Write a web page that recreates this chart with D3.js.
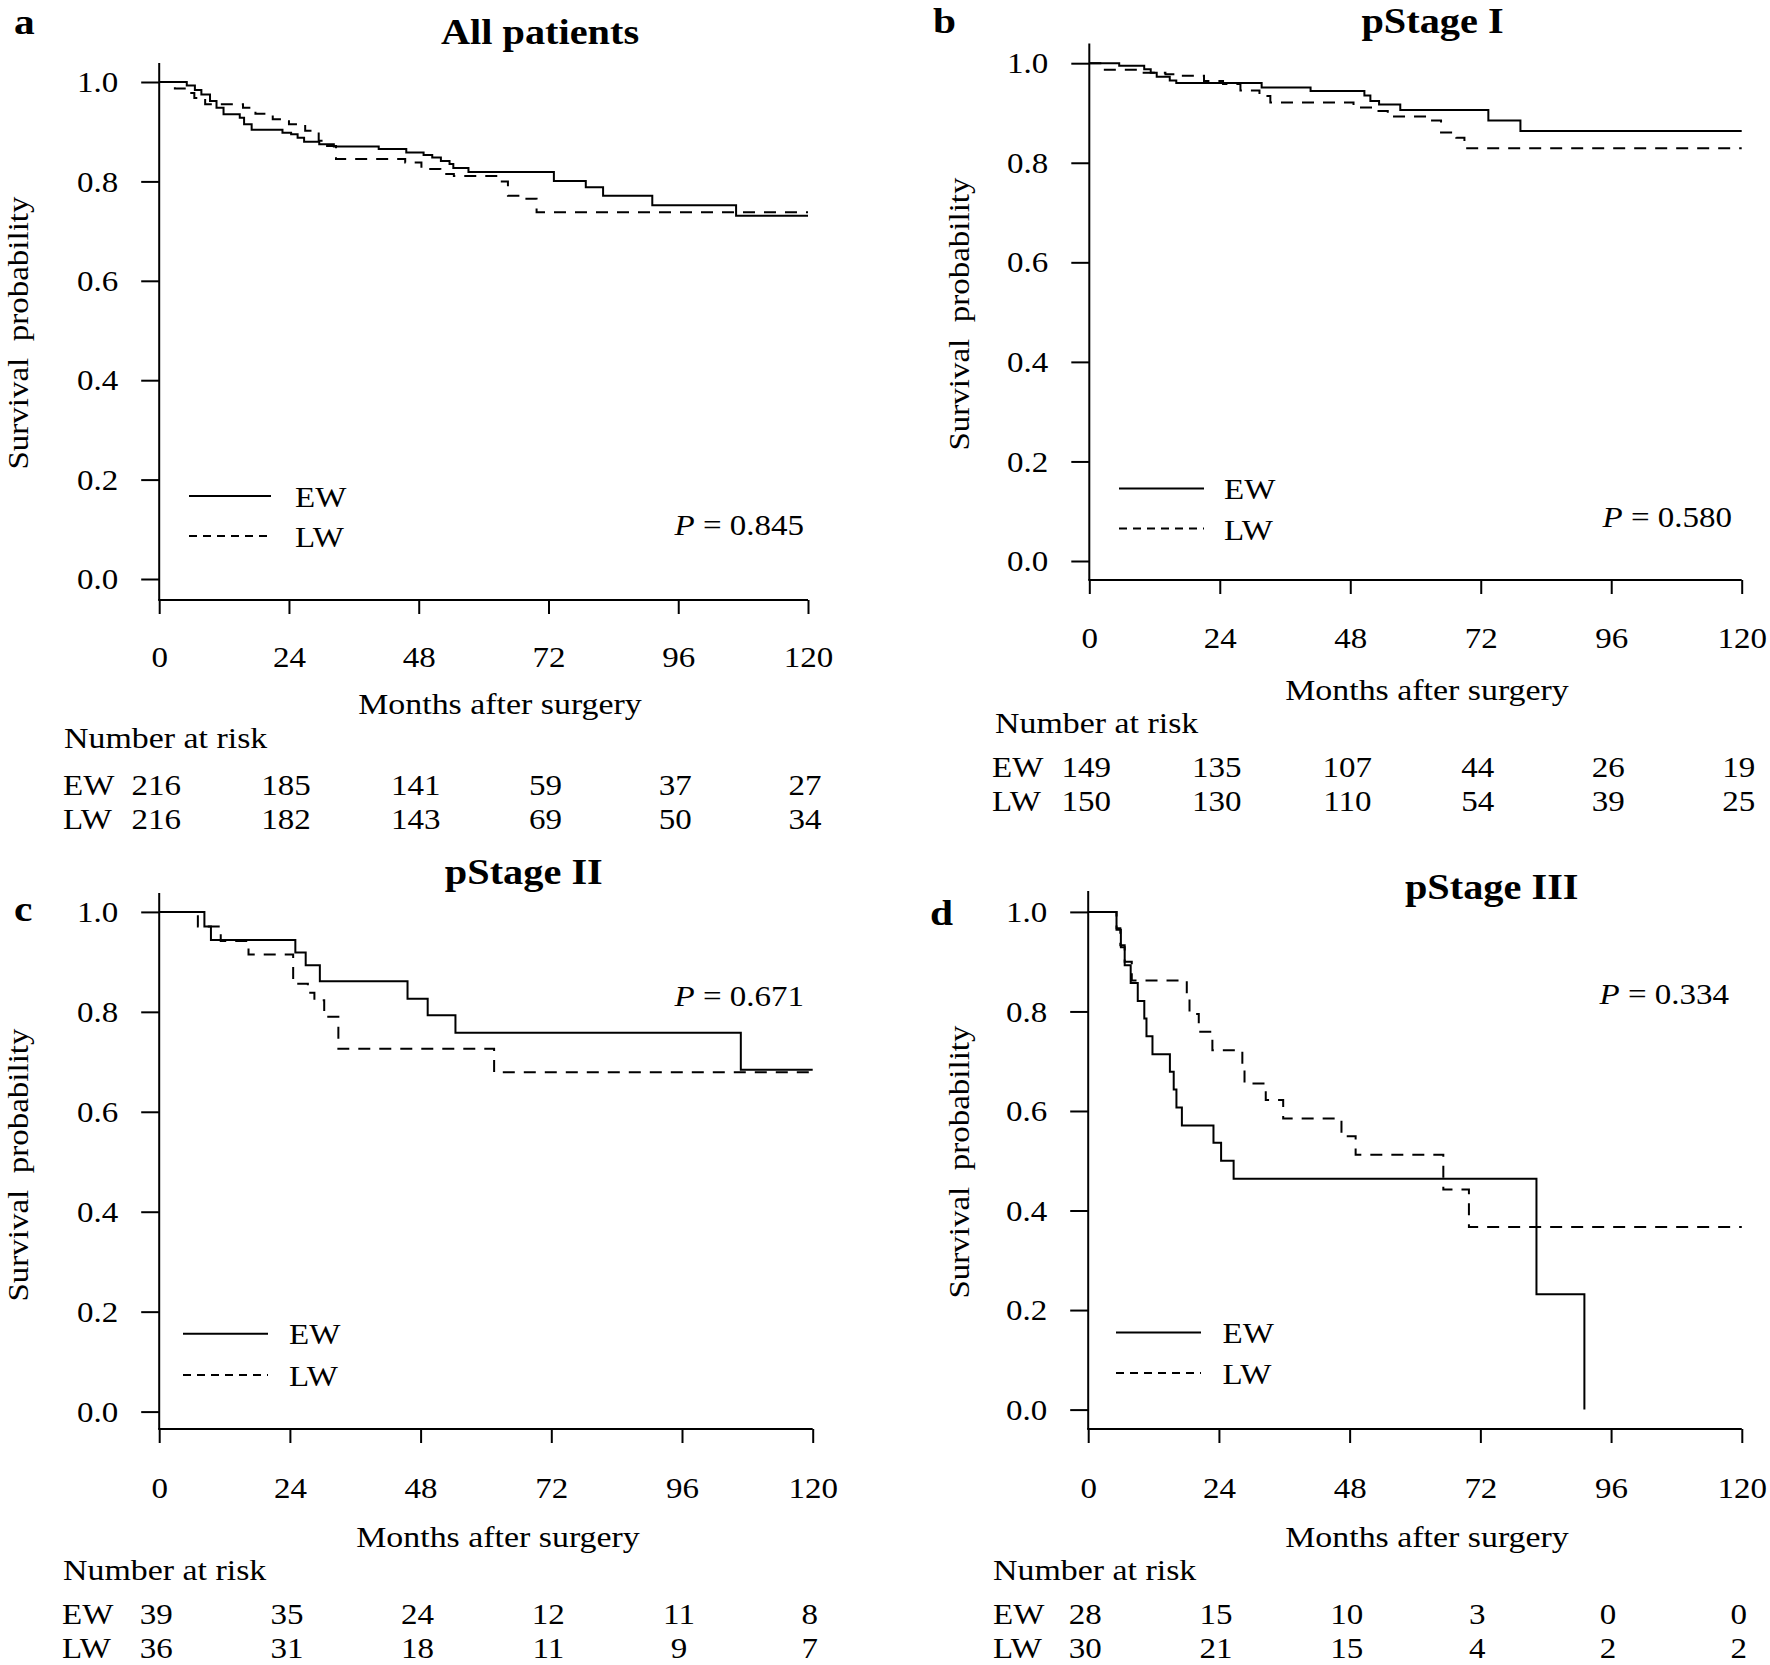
<!DOCTYPE html>
<html>
<head>
<meta charset="utf-8">
<script src="https://cdnjs.cloudflare.com/ajax/libs/d3/7.8.5/d3.min.js"></script>
<style>
  html, body { margin: 0; padding: 0; background: #fff; }
  svg { display: block; }
  text { font-family: "Liberation Serif", "Times New Roman", serif; fill: #000; }
</style>
</head>
<body>
<svg id="chart" width="1770" height="1665"></svg>
<script>
// ---------------- DATA ----------------
const months = [0, 24, 48, 72, 96, 120];
const yTicks = [0, 0.2, 0.4, 0.6, 0.8, 1.0];
const groups = ["EW", "LW"];
const panelLetters = ["a", "b", "c", "d"];
const panelTitles = ["All patients", "pStage I", "pStage II", "pStage III"];
const pValues = ["0.845", "0.580", "0.671", "0.334"];

const atRiskEW = [
  [216, 185, 141, 59, 37, 27],
  [149, 135, 107, 44, 26, 19],
  [39, 35, 24, 12, 11, 8],
  [28, 15, 10, 3, 0, 0]
];
const atRiskLW = [
  [216, 182, 143, 69, 50, 34],
  [150, 130, 110, 54, 39, 25],
  [36, 31, 18, 11, 9, 7],
  [30, 21, 15, 4, 2, 2]
];

// Kaplan-Meier steps: [month, survival after the step]
const ewA = [[0,1],[5.1,.993],[6.6,.984],[7.8,.975],[9.4,.962],[10.6,.948],[11.9,.935],[14.9,.928],[15.7,.915],[17.1,.904],
  [22.8,.898],[24.4,.895],[25.6,.888],[26.8,.880],[29.6,.875],[32.3,.870],[40.6,.865],[45.7,.858],[48.9,.853],[50.5,.848],
  [52.1,.841],[53.7,.835],[54.4,.827],[57.2,.819],[73.0,.801],[78.9,.788],[82.1,.771],[91.2,.752],[106.7,.731],[120,.731]];
const lwA = [[0,1],[2.9,.987],[5.0,.978],[6.5,.968],[8.5,.955],[15.5,.948],[17.8,.936],[21.0,.925],[24.0,.915],[27.0,.902],
  [29.5,.882],[30.5,.871],[32.7,.845],[45.5,.838],[48.5,.825],[52.0,.815],[54.5,.811],[63.0,.800],[64.5,.771],[67.5,.765],
  [69.8,.738],[120,.738]];

const ewB = [[0,1],[5.5,.995],[10.1,.988],[11.3,.981],[12.4,.973],[14.8,.965],[16.0,.960],[31.7,.951],[40.7,.944],[50.6,.935],
  [51.7,.924],[53.3,.917],[57.2,.906],[73.4,.885],[79.3,.864],[120,.864]];
const lwB = [[0,1],[2.6,.987],[10.0,.981],[14.0,.978],[17.0,.975],[21.1,.964],[24.6,.958],[27.8,.945],[31.3,.934],[33.3,.921],
  [48.6,.911],[52.5,.904],[54.9,.893],[62.8,.885],[64.7,.861],[67.5,.850],[69.0,.829],[120,.829]];

const ewC = [[0,1],[8.3,.971],[9.5,.944],[25.0,.919],[26.9,.893],[29.5,.861],[45.6,.826],[49.3,.793],[54.4,.758],[106.8,.684],[120,.684]];
const lwC = [[0,1],[7.1,.971],[11.3,.942],[16.4,.915],[24.6,.856],[27.3,.838],[28.5,.823],[30.3,.790],[32.9,.726],[61.5,.679],[120,.679]];

const ewD = [[0,1],[5.2,.964],[6.0,.929],[6.7,.893],[7.8,.857],[9.1,.821],[10.3,.786],[10.7,.750],[11.8,.714],[15.0,.679],
  [15.7,.643],[16.2,.607],[17.2,.571],[23.0,.536],[24.4,.500],[26.7,.464],[82.3,.232],[91.1,0]];
const lwD = [[0,1],[5.2,.967],[5.9,.933],[6.7,.900],[8.0,.862],[18.1,.830],[18.6,.795],[20.3,.759],[22.8,.722],[28.3,.689],
  [28.7,.655],[32.6,.622],[35.8,.585],[46.5,.549],[49.1,.512],[65.2,.442],[69.9,.367],[120,.367]];

const curvesEW = [ewA, ewB, ewC, ewD];
const curvesLW = [lwA, lwB, lwC, lwD];

// ---------------- LAYOUT ----------------
const layout = [
  { x0:159.2, x1:808, y0:579, y1:82, axTop:63, axY:600, title:[540,44], letter:[14,34], ylab:[28,333],
    leg:{x0:189,x1:271,ya:496,yb:536,tx:295}, p:[804,535], tickLabY:667, monthsX:500, monthsY:714,
    narX:64, narY:748, rowX:63, ewY:795, lwY:829 },
  { x0:1089.3, x1:1741.7, y0:561, y1:63.2, axTop:43.5, axY:580, title:[1432.5,33], letter:[933,33], ylab:[969,314],
    leg:{x0:1119,x1:1204,ya:488.6,yb:528.5,tx:1224}, p:[1732,527], tickLabY:648.4, monthsX:1427, monthsY:700,
    narX:995, narY:733, rowX:992, ewY:777, lwY:811 },
  { x0:159.2, x1:812.7, y0:1411.6, y1:911.9, axTop:893, axY:1429, title:[523.8,884], letter:[14,921], ylab:[28,1165],
    leg:{x0:183,x1:268,ya:1333.8,yb:1375,tx:289}, p:[804,1006], tickLabY:1498, monthsX:498, monthsY:1546.5,
    narX:63, narY:1580, rowX:62, ewY:1624, lwY:1658 },
  { x0:1088.2, x1:1741.8, y0:1409.6, y1:911.9, axTop:891, axY:1429, title:[1491.7,899], letter:[930,925], ylab:[969,1162],
    leg:{x0:1116,x1:1201,ya:1332.6,yb:1373,tx:1222.5}, p:[1729,1004], tickLabY:1498, monthsX:1427, monthsY:1546.5,
    narX:993, narY:1580, rowX:993, ewY:1624, lwY:1658 }
];

const FS = 30;          // base font size
const SX = 1.1;         // horizontal stretch of the lettering
const TFS = 36;         // title font size
const TSX = 1.12;
const LW = 2;           // line width
const svg = d3.select("#chart");

function txt(g, x, y, s, o = {}) {
  const t = g.append("text")
    .attr("transform", `translate(${x},${y})${o.rotate ? " rotate(" + o.rotate + ")" : ""} scale(${o.sx || SX},1)`)
    .attr("text-anchor", o.anchor || "start")
    .attr("font-size", o.size || FS);
  if (o.weight) t.attr("font-weight", o.weight);
  if (o.dy) t.attr("dy", o.dy);
  if (s !== null) t.text(s);
  return t;
}

layout.forEach((L, i) => {
  const g = svg.append("g");
  const x = d3.scaleLinear().domain([0, 120]).range([L.x0, L.x1]);
  const y = d3.scaleLinear().domain([0, 1]).range([L.y0, L.y1]);

  // axis lines (L-shaped frame)
  g.append("line").attr("x1", L.x0).attr("x2", L.x0).attr("y1", L.axTop).attr("y2", L.axY)
    .attr("stroke", "#000").attr("stroke-width", LW);
  g.append("line").attr("x1", L.x0 - 1).attr("x2", L.x1).attr("y1", L.axY).attr("y2", L.axY)
    .attr("stroke", "#000").attr("stroke-width", LW);

  // Y axis ticks + labels
  const yAx = g.append("g").attr("transform", `translate(${L.x0},0)`)
    .call(d3.axisLeft(y).tickValues(yTicks).tickSize(18).tickPadding(41 / SX - 18).tickFormat(d3.format(".1f")));
  yAx.select(".domain").remove();
  yAx.selectAll(".tick line").attr("stroke", "#000").attr("stroke-width", LW);
  yAx.selectAll(".tick text").attr("font-size", FS).attr("font-family", "Liberation Serif")
    .attr("fill", "#000").attr("transform", `scale(${SX},1)`);

  // X axis ticks + labels
  const xAx = g.append("g").attr("transform", `translate(0,${L.axY})`)
    .call(d3.axisBottom(x).tickValues(months).tickSize(14)
      .tickPadding(L.tickLabY - L.axY - 14 - 0.71 * FS).tickFormat(d3.format("d")));
  xAx.select(".domain").remove();
  xAx.selectAll(".tick line").attr("stroke", "#000").attr("stroke-width", LW);
  xAx.selectAll(".tick text").attr("font-size", FS).attr("font-family", "Liberation Serif")
    .attr("fill", "#000").attr("transform", `scale(${SX},1)`);

  // curves
  const line = d3.line().x(d => x(d[0])).y(d => y(d[1])).curve(d3.curveStepAfter);
  g.append("path").datum(curvesLW[i]).attr("d", line).attr("fill", "none")
    .attr("stroke", "#000").attr("stroke-width", LW).attr("stroke-dasharray", "12,9");
  g.append("path").datum(curvesEW[i]).attr("d", line).attr("fill", "none")
    .attr("stroke", "#000").attr("stroke-width", LW);

  // title & panel letter
  txt(g, L.title[0], L.title[1], panelTitles[i], { anchor: "middle", size: TFS, weight: "bold", sx: TSX });
  txt(g, L.letter[0], L.letter[1], panelLetters[i], { size: TFS, weight: "bold", sx: 1.15 });

  // y-axis label
  txt(g, L.ylab[0], L.ylab[1], "Survival\u2002probability", { anchor: "middle", rotate: -90 });

  // legend
  g.append("line").attr("x1", L.leg.x0).attr("x2", L.leg.x1).attr("y1", L.leg.ya).attr("y2", L.leg.ya)
    .attr("stroke", "#000").attr("stroke-width", LW);
  g.append("line").attr("x1", L.leg.x0).attr("x2", L.leg.x1).attr("y1", L.leg.yb).attr("y2", L.leg.yb)
    .attr("stroke", "#000").attr("stroke-width", LW).attr("stroke-dasharray", "8,6");
  txt(g, L.leg.tx, L.leg.ya, groups[0], { dy: "0.35em" });
  txt(g, L.leg.tx, L.leg.yb, groups[1], { dy: "0.38em" });

  // p value
  const pt = txt(g, L.p[0], L.p[1], null, { anchor: "end" });
  pt.append("tspan").attr("font-style", "italic").text("P");
  pt.append("tspan").text(" = " + pValues[i]);

  // x-axis title
  txt(g, L.monthsX, L.monthsY, "Months after surgery", { anchor: "middle", sx: 1.13 });

  // number at risk table
  txt(g, L.narX, L.narY, "Number at risk", { sx: 1.13 });
  txt(g, L.rowX, L.ewY, groups[0]);
  txt(g, L.rowX, L.lwY, groups[1]);
  atRiskEW[i].forEach((d, j) => txt(g, x(months[j]) - 3, L.ewY, String(d), { anchor: "middle" }));
  atRiskLW[i].forEach((d, j) => txt(g, x(months[j]) - 3, L.lwY, String(d), { anchor: "middle" }));
});
</script>
</body>
</html>
